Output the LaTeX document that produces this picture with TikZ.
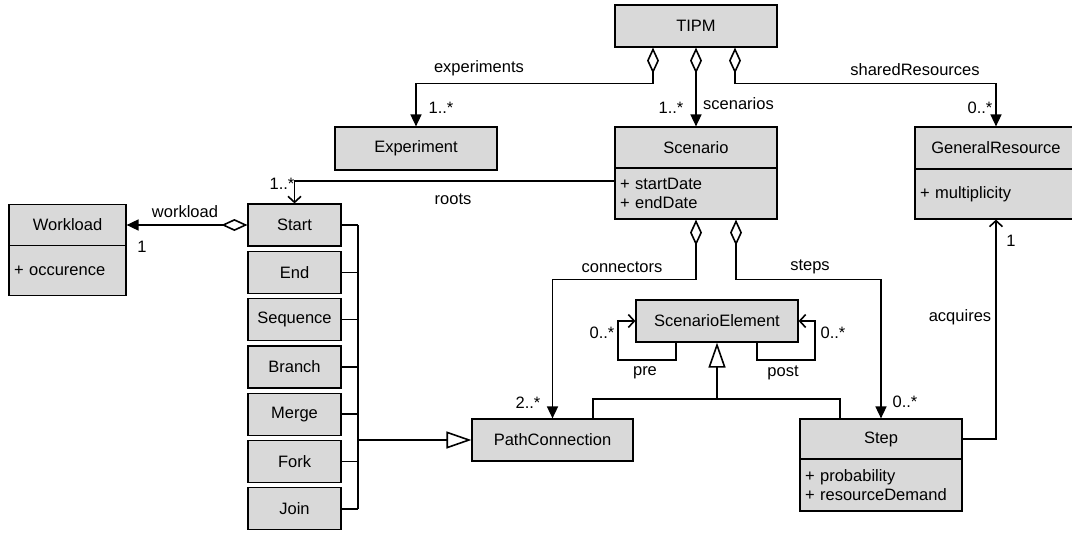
\documentclass[tikz,border=0pt]{standalone}
\usepackage{fontspec}
\setmainfont{Liberation Sans}
\usetikzlibrary{arrows.meta}
\definecolor{boxfill}{RGB}{217,217,217}
\begin{document}
\begin{tikzpicture}[x=1pt,y=-1pt,
  every node/.style={font=\fontsize{16.5}{19}\selectfont},
  cls/.style={draw=black, fill=boxfill, line width=1.2pt, inner sep=0pt, minimum width=162pt, minimum height=42pt},
  attr/.style={cls, text width=152pt, inner xsep=5pt, inner ysep=0pt, align=left},
  stk/.style={cls, minimum width=93pt},
  lbl/.style={inner sep=0pt},
  conn/.style={line width=1.6pt},
  aggr/.style={conn, {Diamond[open,length=26pt,width=12pt]}-{Triangle[length=12pt,width=11pt]}},
  nav/.style={conn, -{Straight Barb[length=6pt,width=13pt]}},
  gen/.style={conn, -{Triangle[open,length=25pt,width=17pt,fill=white]}}]
\useasboundingbox (0,0) rectangle (1072,533);
\fill[white] (0,0) rectangle (1072,533);

% classes
\node[cls] (tipm) at (696,26) {TIPM};
\node[cls, minimum height=43pt] (exp) at (416,148.5) {Experiment};
\node[cls, minimum height=41pt] (scn) at (696,147.5) {Scenario};
\node[attr, minimum height=51pt] (scnA) at (696,193.5) {+ startDate\\+ endDate};
\node[cls] (gr) at (996,148) {GeneralResource};
\node[attr, minimum height=50pt] (grA) at (996,194) {+ multiplicity};
\node[cls, minimum width=117pt, minimum height=41pt] (wl) at (67.5,225) {Workload};
\node[attr, minimum width=117pt, text width=107pt, minimum height=50pt] (wlA) at (67.5,270.5) {+ occurence};

\node[stk] (nstart) at (294.5,225) {Start};
\node[stk] (nend) at (294.5,272.3) {End};
\node[stk] (nseq) at (294.5,319.6) {Sequence};
\node[stk] (nbranch) at (294.5,366.9) {Branch};
\node[stk] (nmerge) at (294.5,414.2) {Merge};
\node[stk] (nfork) at (294.5,461.5) {Fork};
\node[stk] (njoin) at (294.5,508.8) {Join};

\node[cls, minimum width=161pt] (pc) at (552.5,440) {PathConnection};
\node[cls] (se) at (717,321) {ScenarioElement};
\node[cls, minimum height=40pt] (step) at (881,439) {Step};
\node[attr, minimum height=52pt] (stepA) at (881,485) {+ probability\\+ resourceDemand};

% TIPM aggregations
\draw[aggr] ([xshift=-43pt]tipm.south) -- ++(0,36) -| (exp.north);
\draw[aggr] (tipm.south) -- (scn.north);
\draw[aggr] ([xshift=39pt]tipm.south) -- ++(0,36) -| (gr.north);

% roots and workload
\draw[nav] ([yshift=12.5pt]scnA.west) -| (nstart.north);
\draw[aggr] (nstart.west) -- (wl.east);

% connectors and steps
\draw[aggr] (scnA.south) -- ++(0,60) -| (pc.north);
\draw[aggr] ([xshift=40pt]scnA.south) -- ++(0,60) -| (step.north);

% bus of path connection kinds
\coordinate (bj) at (358,440);
\foreach \n in {nstart,nend,nseq,nbranch,nmerge,nfork,njoin}
  \draw[conn] (\n.east) -- (\n.east -| bj);
\draw[conn] (nstart.east -| bj) -- (njoin.east -| bj);
\draw[gen] (bj) -- (pc.west);

% generalization to ScenarioElement
\coordinate (gj) at (717,399);
\draw[gen] (gj) -- (se.south);
\draw[conn] ([xshift=40.5pt]pc.north) |- (gj);
\draw[conn] ([xshift=-41pt]step.north) |- (gj);

% pre / post
\draw[nav] ([xshift=-41pt]se.south) -- ++(0,17.5) -- ++(-58,0) |- (se.west);
\draw[nav] ([xshift=40pt]se.south) -- ++(0,17.5) -- ++(58,0) |- (se.east);

% acquires
\draw[nav] (step.east) -| (grA.south);

% labels
\node[lbl] (Lexp) at (479,68) {experiments};
\node[lbl] (Lexpm) at (441,108) {1..*};
\node[lbl] (Lscnm) at (671,108) {1..*};
\node[lbl, anchor=west] (Lscn) at (703,104) {scenarios};
\node[lbl] (Lsh) at (915,70) {sharedResources};
\node[lbl] (Lshm) at (980,108) {0..*};
\node[lbl] (Lroots) at (453,199) {roots};
\node[lbl] (Lrootsm) at (282,184) {1..*};
\node[lbl] (Lwl) at (185,212) {workload};
\node[lbl] (Lwlm) at (142,247) {1};
\node[lbl] (Lcon) at (622,267) {connectors};
\node[lbl] (Lsteps) at (810,267) {steps};
\node[lbl] (Lconm) at (528,403) {2..*};
\node[lbl] (Lstepsm) at (905,402) {0..*};
\node[lbl] (Lprem) at (602,333) {0..*};
\node[lbl] (Lpre) at (645,373) {pre};
\node[lbl] (Lpostm) at (833,333) {0..*};
\node[lbl] (Lpost) at (783,373) {post};
\node[lbl] (Lacq) at (960,317) {acquires};
\node[lbl] (Lacqm) at (1011,241) {1};
\end{tikzpicture}
\end{document}
